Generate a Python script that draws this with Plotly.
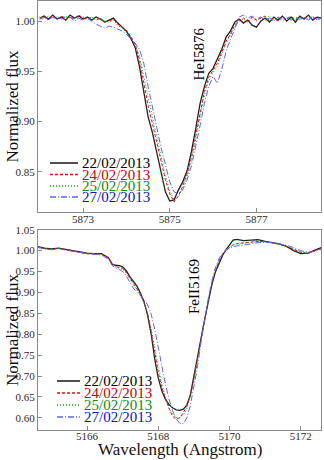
import plotly.graph_objects as go

# ---------------- data ----------------
dates = ["22/02/2013", "24/02/2013", "25/02/2013", "27/02/2013"]

wl_he = [5872.0, 5872.1, 5872.2, 5872.3, 5872.4, 5872.5, 5872.6, 5872.7, 5872.8, 5872.9,
         5873.0, 5873.1, 5873.2, 5873.3, 5873.4, 5873.5, 5873.6, 5873.7, 5873.8, 5873.9,
         5874.0, 5874.1, 5874.2, 5874.3, 5874.4, 5874.5, 5874.6, 5874.7, 5874.8, 5874.9,
         5875.0, 5875.1, 5875.2, 5875.3, 5875.4, 5875.5, 5875.6, 5875.7, 5875.8, 5875.9,
         5876.0, 5876.1, 5876.2, 5876.3, 5876.4, 5876.5, 5876.6, 5876.7, 5876.8, 5876.9,
         5877.0, 5877.1, 5877.2, 5877.3, 5877.4, 5877.5, 5877.6, 5877.7, 5877.8, 5877.9,
         5878.0, 5878.1, 5878.2, 5878.3, 5878.4, 5878.5]

he_22 = [1.003, 1.005, 1.002, 1.006, 1.002, 1.004, 1.001, 1.006, 1.003, 1.005,
         1.002, 1.004, 1.001, 1.004, 1.002, 0.999, 1.001, 1.003, 0.998, 0.994,
         0.990, 0.983, 0.974, 0.955, 0.928, 0.905, 0.889, 0.870, 0.848, 0.830,
         0.821, 0.822, 0.832, 0.840, 0.851, 0.870, 0.893, 0.918, 0.935, 0.948,
         0.953, 0.962, 0.972, 0.984, 0.990, 0.999, 1.002, 0.998, 1.001, 0.996,
         0.994, 1.000, 1.003, 0.999, 1.004, 1.001, 1.005, 1.000, 1.004, 0.999,
         1.005, 1.002, 1.006, 1.001, 1.004, 1.003]
he_24 = [1.002, 1.004, 1.003, 1.005, 1.002, 1.005, 1.003, 1.004, 1.002, 1.006,
         1.003, 1.002, 1.004, 1.001, 1.003, 0.999, 1.000, 1.002, 0.997, 0.994,
         0.991, 0.985, 0.977, 0.962, 0.940, 0.916, 0.898, 0.880, 0.860, 0.842,
         0.828, 0.820, 0.826, 0.836, 0.848, 0.864, 0.886, 0.910, 0.930, 0.944,
         0.951, 0.958, 0.969, 0.980, 0.987, 0.996, 1.001, 1.003, 1.000, 1.004,
         1.001, 1.003, 1.005, 1.001, 1.003, 1.000, 1.004, 1.002, 1.005, 1.001,
         1.004, 1.003, 1.005, 1.002, 1.004, 1.002]
he_25 = [1.004, 1.002, 1.005, 1.003, 1.004, 1.002, 1.005, 1.003, 1.004, 1.002,
         1.004, 1.003, 1.001, 1.004, 1.002, 1.000, 0.999, 1.001, 0.996, 0.993,
         0.989, 0.984, 0.978, 0.965, 0.945, 0.922, 0.903, 0.885, 0.865, 0.846,
         0.831, 0.822, 0.825, 0.834, 0.846, 0.861, 0.882, 0.905, 0.926, 0.941,
         0.949, 0.955, 0.966, 0.978, 0.986, 0.994, 1.000, 1.002, 0.999, 1.003,
         1.000, 1.004, 1.002, 1.005, 1.001, 1.003, 1.000, 1.004, 1.002, 1.003,
         1.001, 1.004, 1.002, 1.005, 1.001, 1.002]
he_27 = [1.003, 1.004, 1.001, 1.004, 1.002, 1.003, 1.001, 1.004, 1.000, 1.003,
         1.001, 1.003, 1.000, 0.997, 0.995, 0.993, 0.995, 0.994, 0.992, 0.990,
         0.987, 0.983, 0.978, 0.972, 0.958, 0.935, 0.913, 0.894, 0.874, 0.856,
         0.840, 0.830, 0.828, 0.832, 0.842, 0.856, 0.875, 0.896, 0.918, 0.935,
         0.945, 0.938, 0.952, 0.970, 0.982, 0.992, 1.004, 1.006, 1.003, 1.005,
         1.002, 1.004, 1.001, 1.003, 1.000, 1.004, 1.002, 1.003, 1.001, 1.004,
         1.002, 1.003, 1.001, 1.004, 1.002, 1.003]

wl_fe = [5164.6, 5164.8, 5165.0, 5165.2, 5165.4, 5165.6, 5165.8, 5166.0, 5166.2, 5166.4,
         5166.6, 5166.7, 5166.8, 5166.9, 5167.0, 5167.1, 5167.2, 5167.3, 5167.4, 5167.5,
         5167.6, 5167.7, 5167.8, 5167.9, 5168.0, 5168.1, 5168.2, 5168.3, 5168.4, 5168.5,
         5168.6, 5168.7, 5168.8, 5168.9, 5169.0, 5169.1, 5169.2, 5169.3, 5169.4, 5169.5,
         5169.6, 5169.7, 5169.8, 5169.9, 5170.0, 5170.1, 5170.2, 5170.4, 5170.6, 5170.8,
         5171.0, 5171.2, 5171.4, 5171.6, 5171.8, 5172.0, 5172.2, 5172.4, 5172.6]

fe_22 = [1.010, 1.006, 1.004, 1.006, 1.003, 1.000, 0.996, 0.994, 0.993, 0.993,
         0.983, 0.968, 0.965, 0.964, 0.961, 0.952, 0.938, 0.925, 0.915, 0.898,
         0.878, 0.845, 0.800, 0.740, 0.695, 0.664, 0.644, 0.632, 0.624, 0.619,
         0.618, 0.621, 0.630, 0.655, 0.697, 0.745, 0.790, 0.835, 0.877, 0.917,
         0.948, 0.970, 0.988, 1.002, 1.015, 1.025, 1.027, 1.024, 1.025, 1.026,
         1.022, 1.019, 1.016, 1.010, 1.000, 0.993, 0.994, 1.001, 1.008]
fe_24 = [1.008, 1.005, 1.002, 1.005, 1.002, 0.999, 0.995, 0.992, 0.993, 0.991,
         0.982, 0.970, 0.962, 0.960, 0.957, 0.948, 0.935, 0.922, 0.910, 0.895,
         0.876, 0.848, 0.806, 0.755, 0.708, 0.672, 0.645, 0.622, 0.604, 0.597,
         0.600, 0.612, 0.628, 0.655, 0.694, 0.742, 0.790, 0.836, 0.880, 0.921,
         0.952, 0.974, 0.990, 1.000, 1.008, 1.014, 1.017, 1.019, 1.021, 1.022,
         1.021, 1.019, 1.015, 1.010, 1.003, 0.996, 0.993, 0.999, 1.006]
fe_25 = [1.009, 1.005, 1.003, 1.005, 1.002, 0.999, 0.996, 0.993, 0.992, 0.992,
         0.981, 0.968, 0.961, 0.958, 0.955, 0.946, 0.932, 0.918, 0.906, 0.892,
         0.874, 0.850, 0.812, 0.765, 0.718, 0.680, 0.650, 0.626, 0.609, 0.601,
         0.600, 0.606, 0.622, 0.650, 0.690, 0.738, 0.787, 0.834, 0.879, 0.920,
         0.953, 0.976, 0.992, 1.002, 1.009, 1.013, 1.015, 1.017, 1.020, 1.021,
         1.021, 1.018, 1.015, 1.011, 1.004, 0.997, 0.994, 1.000, 1.006]
fe_27 = [1.008, 1.004, 1.002, 1.005, 1.001, 0.998, 0.995, 0.993, 0.991, 0.990,
         0.979, 0.965, 0.958, 0.955, 0.950, 0.940, 0.924, 0.910, 0.900, 0.893,
         0.884, 0.870, 0.848, 0.812, 0.768, 0.722, 0.680, 0.645, 0.617, 0.598,
         0.587, 0.586, 0.600, 0.630, 0.672, 0.722, 0.782, 0.836, 0.884, 0.926,
         0.958, 0.980, 0.994, 1.002, 1.006, 1.009, 1.011, 1.013, 1.016, 1.019,
         1.020, 1.019, 1.016, 1.013, 1.007, 1.000, 0.996, 0.998, 1.004]

he_ticks = [5873, 5875, 5877]
fe_ticks = [5166, 5168, 5170, 5172]

# ---------------- style ----------------
line_colors = ["#222222", "#e01010", "#10a010", "#6060ff"]
text_colors = ["#000000", "#cc0000", "#108a10", "#1010c0"]
dashes = ["solid", "3px,2px", "1px,2px", "6px,2px,1px,2px"]
widths = [1.3, 1.0, 1.0, 1.0]
SERIF = "Liberation Serif, Times New Roman, DejaVu Serif, serif"

W, H = 324, 460
ML, MR, MT, MB = 38, 3, 1, 30
PW, PH = W - ML - MR, H - MT - MB


def px_x(p):
    return (p - ML) / PW


def px_y(p):
    return (H - MB - p) / PH


fig = go.Figure()
he_series = [he_22, he_24, he_25, he_27]
fe_series = [fe_22, fe_24, fe_25, fe_27]
for i in range(4):
    fig.add_trace(go.Scatter(x=wl_he, y=he_series[i], mode="lines", xaxis="x", yaxis="y",
                             line=dict(color=line_colors[i], width=widths[i], dash=dashes[i]),
                             showlegend=False, hoverinfo="skip"))
for i in range(4):
    fig.add_trace(go.Scatter(x=wl_fe, y=fe_series[i], mode="lines", xaxis="x2", yaxis="y2",
                             line=dict(color=line_colors[i], width=widths[i], dash=dashes[i]),
                             showlegend=False, hoverinfo="skip"))

axis_common = dict(showline=True, mirror=True, linecolor="#8a8a8a", linewidth=1,
                   ticks="inside", ticklen=4, tickcolor="#8a8a8a", showgrid=False,
                   zeroline=False, automargin=False)

fig.update_layout(
    width=W, height=H, margin=dict(l=ML, r=MR, t=MT, b=MB, autoexpand=False),
    paper_bgcolor="white", plot_bgcolor="white", showlegend=False,
    xaxis=dict(domain=[0, 1], anchor="y", range=[5871.96, 5878.49],
               tickvals=he_ticks, ticktext=[str(t) for t in he_ticks], ticklabelstandoff=-3,
               tickfont=dict(family=SERIF, size=11, color="#2a2a2a"), **axis_common),
    yaxis=dict(domain=[px_y(212), 1], anchor="x", range=[0.810, 1.020],
               tickvals=[0.85, 0.90, 0.95, 1.00], tickformat=".2f",
               tickfont=dict(family=SERIF, size=11, color="#2a2a2a"), **axis_common),
    xaxis2=dict(domain=[0, 1], anchor="y2", range=[5164.62, 5172.57],
                tickvals=fe_ticks, ticktext=[str(t) for t in fe_ticks], ticklabelstandoff=-4,
                tickfont=dict(family=SERIF, size=11, color="#3a2626"), **axis_common),
    yaxis2=dict(domain=[0, px_y(229.5)], anchor="x2", range=[0.571, 1.0505],
                tickvals=[0.60, 0.65, 0.70, 0.75, 0.80, 0.85, 0.90, 0.95, 1.00, 1.05],
                tickformat=".2f",
                tickfont=dict(family=SERIF, size=11, color="#3a2626"), **axis_common),
)

# axis titles
for cy in (px_y(106.5), px_y(330)):
    fig.add_annotation(x=px_x(12), y=cy, xref="paper", yref="paper", text="Normalized flux",
                       textangle=-90, showarrow=False, xanchor="center", yanchor="middle",
                       font=dict(family=SERIF, size=17, color="#111"))
fig.add_annotation(x=px_x(179.5), y=px_y(449), xref="paper", yref="paper",
                   text="Wavelength (Angstrom)", showarrow=False, xanchor="center",
                   yanchor="middle", font=dict(family=SERIF, size=17, color="#111"))

# line identification labels
fig.add_annotation(x=5875.68, y=0.967, xref="x", yref="y", text="HeI5876", textangle=-90,
                   showarrow=False, font=dict(family=SERIF, size=15, color="#000"))
fig.add_annotation(x=5169.0, y=0.915, xref="x2", yref="y2", text="FeII5169", textangle=-90,
                   showarrow=False, font=dict(family=SERIF, size=15, color="#000"))

# in-panel legends (texts + line samples)
legend_rows = [([163, 174.5, 186, 197], 50, 78, 80), ([381, 393, 405, 417], 57, 80, 82)]
for rows, x0, x1, xt in legend_rows:
    for i, py in enumerate(rows):
        fig.add_shape(type="line", xref="paper", yref="paper",
                      x0=px_x(x0), x1=px_x(x1), y0=px_y(py), y1=px_y(py),
                      line=dict(color=line_colors[i], width=widths[i] + 0.3, dash=dashes[i]))
        fig.add_annotation(x=px_x(xt), y=px_y(py), xref="paper", yref="paper",
                           text=dates[i], showarrow=False, xanchor="left", yanchor="middle",
                           font=dict(family=SERIF, size=15, color=text_colors[i]))

fig.write_html("out.html", config={"displayModeBar": False},
               post_script="document.body.style.margin='0';document.body.style.overflow='hidden';")
